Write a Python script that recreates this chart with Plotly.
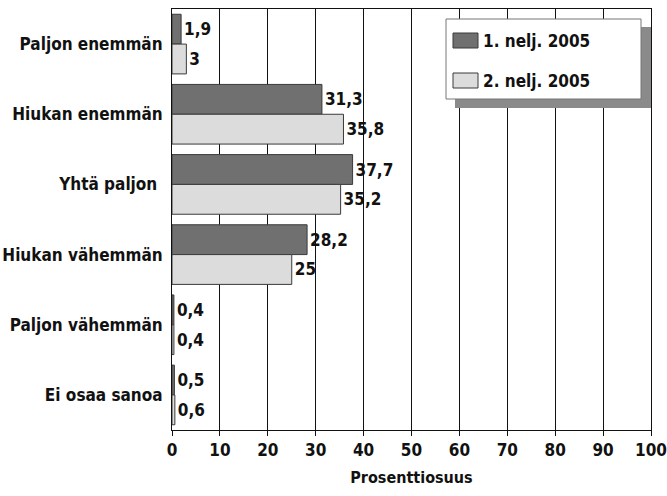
import plotly.graph_objects as go

categories = ["Paljon enemmän", "Hiukan enemmän", "Yhtä paljon ", "Hiukan vähemmän",
              "Paljon vähemmän", "Ei osaa sanoa"]
series_names = ["1. nelj. 2005", "2. nelj. 2005"]
q1_values = [1.9, 31.3, 37.7, 28.2, 0.4, 0.5]
q2_values = [3, 35.8, 35.2, 25, 0.4, 0.6]
x_ticks = [0, 10, 20, 30, 40, 50, 60, 70, 80, 90, 100]
x_title = "Prosenttiosuus"

FONT = "DejaVu Sans Condensed, DejaVu Sans, sans-serif"
FWEIGHT = "bold"

def f(size):
    return dict(family=FONT, size=size, color="#111", weight=FWEIGHT)

def fmt(v):
    return ("%g" % v).replace(".", ",")

fig = go.Figure()
colors = ["#707070", "#dcdcdc"]
for i, (name, vals) in enumerate(zip(series_names, [q1_values, q2_values])):
    fig.add_trace(go.Bar(
        y=categories, x=vals, name=name, orientation="h",
        marker=dict(color=colors[i], line=dict(color="#3a3a3a", width=1)),
        text=[fmt(v) for v in vals], textposition="outside",
        textfont=f(17), cliponaxis=False, showlegend=False,
    ))

W, H = 667, 496
L, R, T, B = 172, 16, 9, 66
pw, ph = W - L - R, H - T - B

def px(x):
    return (x - L) / pw

def py(y):
    return (H - B - y) / ph

shapes = [
    dict(type="rect", xref="paper", yref="paper", x0=px(455), x1=px(651), y0=py(108), y1=py(27),
         fillcolor="#8a8a8a", line=dict(width=0), layer="above"),
    dict(type="rect", xref="paper", yref="paper", x0=px(446), x1=px(641), y0=py(99), y1=py(19),
         fillcolor="white", line=dict(color="#777", width=1), layer="above"),
]
annotations = []
leg_rows = [(33, 48, 40.5), (73, 88, 80.5)]
for i, name in enumerate(series_names):
    y0, y1, yc = leg_rows[i]
    shapes.append(dict(type="rect", xref="paper", yref="paper", x0=px(453), x1=px(478),
                       y0=py(y1), y1=py(y0), fillcolor=colors[i],
                       line=dict(color="#3a3a3a", width=1), layer="above"))
    annotations.append(dict(xref="paper", yref="paper", x=px(481), y=py(yc), xanchor="left",
                            yanchor="middle", text=name, showarrow=False, font=f(17)))

fig.update_layout(
    width=W, height=H, margin=dict(l=L, r=R, t=T, b=B, autoexpand=False),
    plot_bgcolor="white", paper_bgcolor="white",
    barmode="group", bargap=0.15, bargroupgap=0,
    font=f(16), shapes=shapes, annotations=annotations,
    showlegend=False,
    xaxis=dict(range=[0, 100], tickvals=x_ticks, showgrid=True, gridcolor="#111", gridwidth=1,
               showline=True, linecolor="#111", linewidth=1, mirror=True,
               ticks="outside", ticklen=5, tickcolor="#111", zeroline=False,
               tickfont=f(17), automargin=False, ticklabeloverflow="allow",
               title=dict(text=x_title, font=f(16), standoff=12)),
    yaxis=dict(autorange="reversed", showline=True, linecolor="#111", linewidth=1, mirror=True,
               ticks="", tickfont=f(17), ticklabelstandoff=5, automargin=False),
)

fig.write_html("out.html", config={"displayModeBar": False},
               post_script="document.body.style.margin='0';")
